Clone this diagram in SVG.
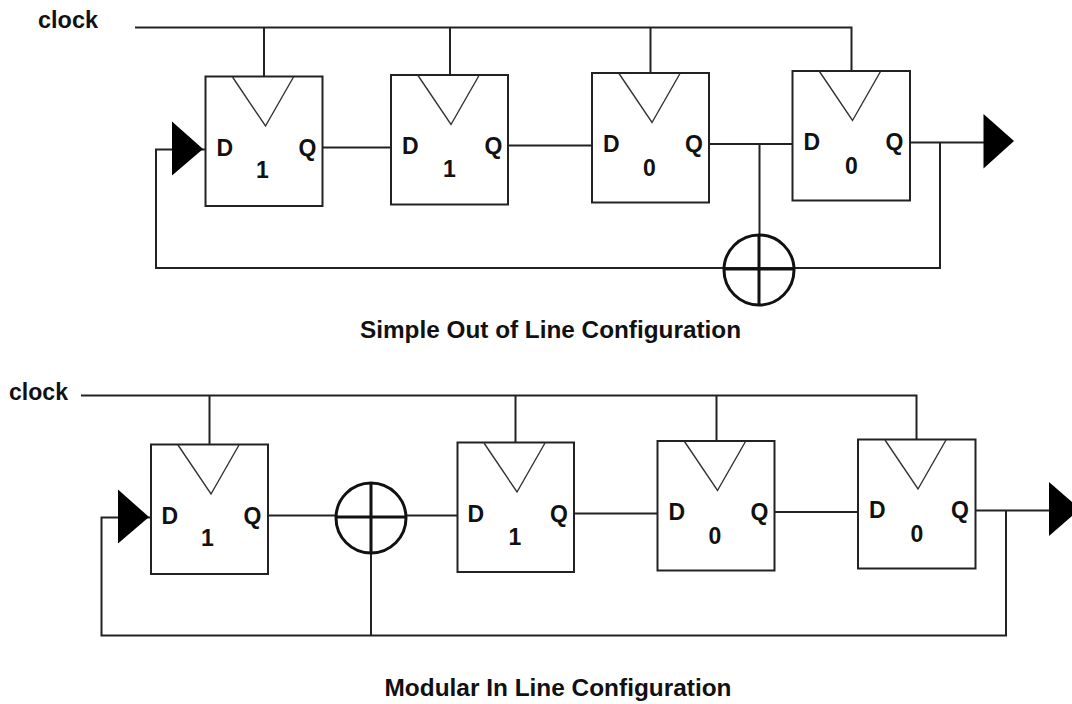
<svg xmlns="http://www.w3.org/2000/svg" width="1072" height="704" viewBox="0 0 1072 704">
<style>
text{font-family:"Liberation Sans",Arial,sans-serif;font-weight:bold;fill:#111}
.t{font-size:23px}
.l{font-size:23px}
.b{fill:#fff;stroke:#222;stroke-width:2}
.v{fill:none;stroke:#333;stroke-width:1.4}
.w{fill:none;stroke:#222;stroke-width:2}
.x{fill:none;stroke:#111;stroke-width:3}
.a{fill:#000}
</style>
<rect width="1072" height="704" fill="#fff"/>
<g id="connectors">
<path class="w" d="M135 27.500H851.500V71M264 27.500V76.500M450 27.500V75M650.500 27.500V73"/>
<path class="w" d="M323 147.500H391M508 145.500H592M709 144H792.500M910 142.500H984M940 142.500V268H156V149.500H205M759.500 144V235"/>
<path class="w" d="M81 395.500H916.500V439.500M209.500 395.500V444.500M515.500 395.500V442.500M716.500 395.500V441"/>
<path class="w" d="M268 515.500H335M407 515.500H457.500M574 513.500H657.500M775 512H858M975.500 510.500H1050M1006 510.500V635.500H101.500V517.500H151M371 554V635.500"/>
</g>
<g id="top-clock"><text class="l" x="38" y="28" textLength="60" lengthAdjust="spacingAndGlyphs">clock</text></g>
<g id="top-ff1"><rect class="b" x="205.500" y="76.500" width="117" height="129.500"/><path class="v" d="M232.500 77L265.500 126L293.500 77"/><text class="t" x="216.500" y="155.500">D</text><text class="t" x="298.500" y="155.500">Q</text><text class="t" x="262.500" y="177.500" text-anchor="middle">1</text></g>
<g id="top-ff2"><rect class="b" x="391" y="75" width="117" height="129.500"/><path class="v" d="M418 75.500L451 124.500L479 75.500"/><text class="t" x="402" y="153.500">D</text><text class="t" x="484.500" y="153.500">Q</text><text class="t" x="449.500" y="177" text-anchor="middle">1</text></g>
<g id="top-ff3"><rect class="b" x="592" y="73" width="117" height="129.500"/><path class="v" d="M619 73.500L652 122.500L680 73.500"/><text class="t" x="603" y="152">D</text><text class="t" x="685" y="152">Q</text><text class="t" x="649.500" y="175.500" text-anchor="middle">0</text></g>
<g id="top-ff4"><rect class="b" x="792.500" y="71" width="117.500" height="129.500"/><path class="v" d="M819.500 71.500L852.500 120.500L880.500 71.500"/><text class="t" x="803.500" y="150">D</text><text class="t" x="885.500" y="150">Q</text><text class="t" x="851.500" y="174" text-anchor="middle">0</text></g>
<g id="top-in"><path class="a" d="M172 121.500L203 149L172 175.500Z"/></g>
<g id="top-out"><path class="a" d="M983.500 114L1014 141L983.500 168.500Z"/></g>
<g id="top-xor"><circle class="x" cx="759" cy="270" r="35"/><path class="x" d="M724 269H794M759 235V305"/></g>
<g id="top-title"><text class="l" x="360" y="338" textLength="381" lengthAdjust="spacingAndGlyphs">Simple Out of Line Configuration</text></g>
<g id="bottom-clock"><text class="l" x="9" y="400" textLength="59" lengthAdjust="spacingAndGlyphs">clock</text></g>
<g id="bottom-ff1"><rect class="b" x="151" y="444.500" width="117" height="129.500"/><path class="v" d="M178 445L211 494L239 445"/><text class="t" x="161.500" y="523.500">D</text><text class="t" x="243.500" y="523.500">Q</text><text class="t" x="207.500" y="545.500" text-anchor="middle">1</text></g>
<g id="bottom-ff2"><rect class="b" x="457.500" y="442.500" width="116.500" height="129.500"/><path class="v" d="M484 443L517 492L545 443"/><text class="t" x="467.500" y="521.500">D</text><text class="t" x="550" y="521.500">Q</text><text class="t" x="515" y="545" text-anchor="middle">1</text></g>
<g id="bottom-ff3"><rect class="b" x="657.500" y="441" width="117" height="129.500"/><path class="v" d="M684.500 441.500L717.500 490.500L745.500 441.500"/><text class="t" x="668.500" y="520">D</text><text class="t" x="750.500" y="520">Q</text><text class="t" x="715" y="543.500" text-anchor="middle">0</text></g>
<g id="bottom-ff4"><rect class="b" x="858" y="439.500" width="117.500" height="129"/><path class="v" d="M885 440L918 489L946 440"/><text class="t" x="869" y="518">D</text><text class="t" x="951" y="518">Q</text><text class="t" x="917" y="541.500" text-anchor="middle">0</text></g>
<g id="bottom-in"><path class="a" d="M118 489.500L149 517L118 543.500Z"/></g>
<g id="bottom-out"><path class="a" d="M1049 482L1080 509L1049 536Z"/></g>
<g id="bottom-xor"><circle class="x" cx="371" cy="518" r="35"/><path class="x" d="M336 517H406M371 483V553"/></g>
<g id="bottom-title"><text class="l" x="384.500" y="696" textLength="347" lengthAdjust="spacingAndGlyphs">Modular In Line Configuration</text></g>
</svg>
